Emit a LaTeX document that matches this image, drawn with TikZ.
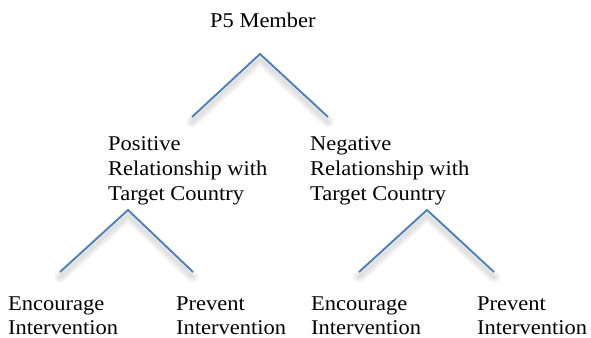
\documentclass[tikz,border=0pt]{standalone}
\usepackage{fontspec}
\setmainfont{Liberation Serif}[FakeStretch=1.07]
\begin{document}
\begin{tikzpicture}[x=1pt,y=-1pt,
  lbl/.style={anchor=base west,inner sep=0pt,align=left,
    font=\fontsize{21}{#1}\selectfont},
  lbl/.default=25,
  leaf/.style={lbl=24,text depth=0pt},
  branch/.style={draw=linkblue,line width=1.8pt,line join=miter},
  shade/.style={draw=black,line width=#1,opacity=0.03,line join=round,line cap=round}]
\definecolor{linkblue}{HTML}{4A7EBB}
\useasboundingbox (0,0) rectangle (591,337);

% labels (anchored at the baseline of their last line)
\node[lbl] (root) at (210,28) {P5 Member};
\node[lbl] (pos) at (108,200) {Positive\\Relationship with\\Target Country};
\node[lbl] (neg) at (310,200) {Negative\\Relationship with\\Target Country};
\node[leaf] (pe) at (8,334.5) {Encourage\\Intervention};
\node[leaf] (pp) at (176,334.5) {Prevent\\Intervention};
\node[leaf] (ne) at (311,334.5) {Encourage\\Intervention};
\node[leaf] (np) at (477,334.5) {Prevent\\Intervention};

% branch points
\coordinate (t0) at (260,54);
\coordinate (tl) at (192,117);
\coordinate (tr) at (328,117);
\coordinate (l0) at (128,210);
\coordinate (ll) at (60,272);
\coordinate (lr) at (193,272);
\coordinate (r0) at (427,210);
\coordinate (rl) at (359,272);
\coordinate (rr) at (494,272);

% soft shadows under the branches
\foreach \a/\b/\c in {t0/tl/tr,l0/ll/lr,r0/rl/rr}{
  \foreach \w in {12pt,9pt,6pt,3pt}{
    \draw[shade=\w,transform canvas={yshift=-5pt}] (\b) -- (\a) -- (\c);
  }
}

% branches
\draw[branch] (tl) -- (t0) -- (tr);
\draw[branch] (ll) -- (l0) -- (lr);
\draw[branch] (rl) -- (r0) -- (rr);
\end{tikzpicture}
\end{document}
